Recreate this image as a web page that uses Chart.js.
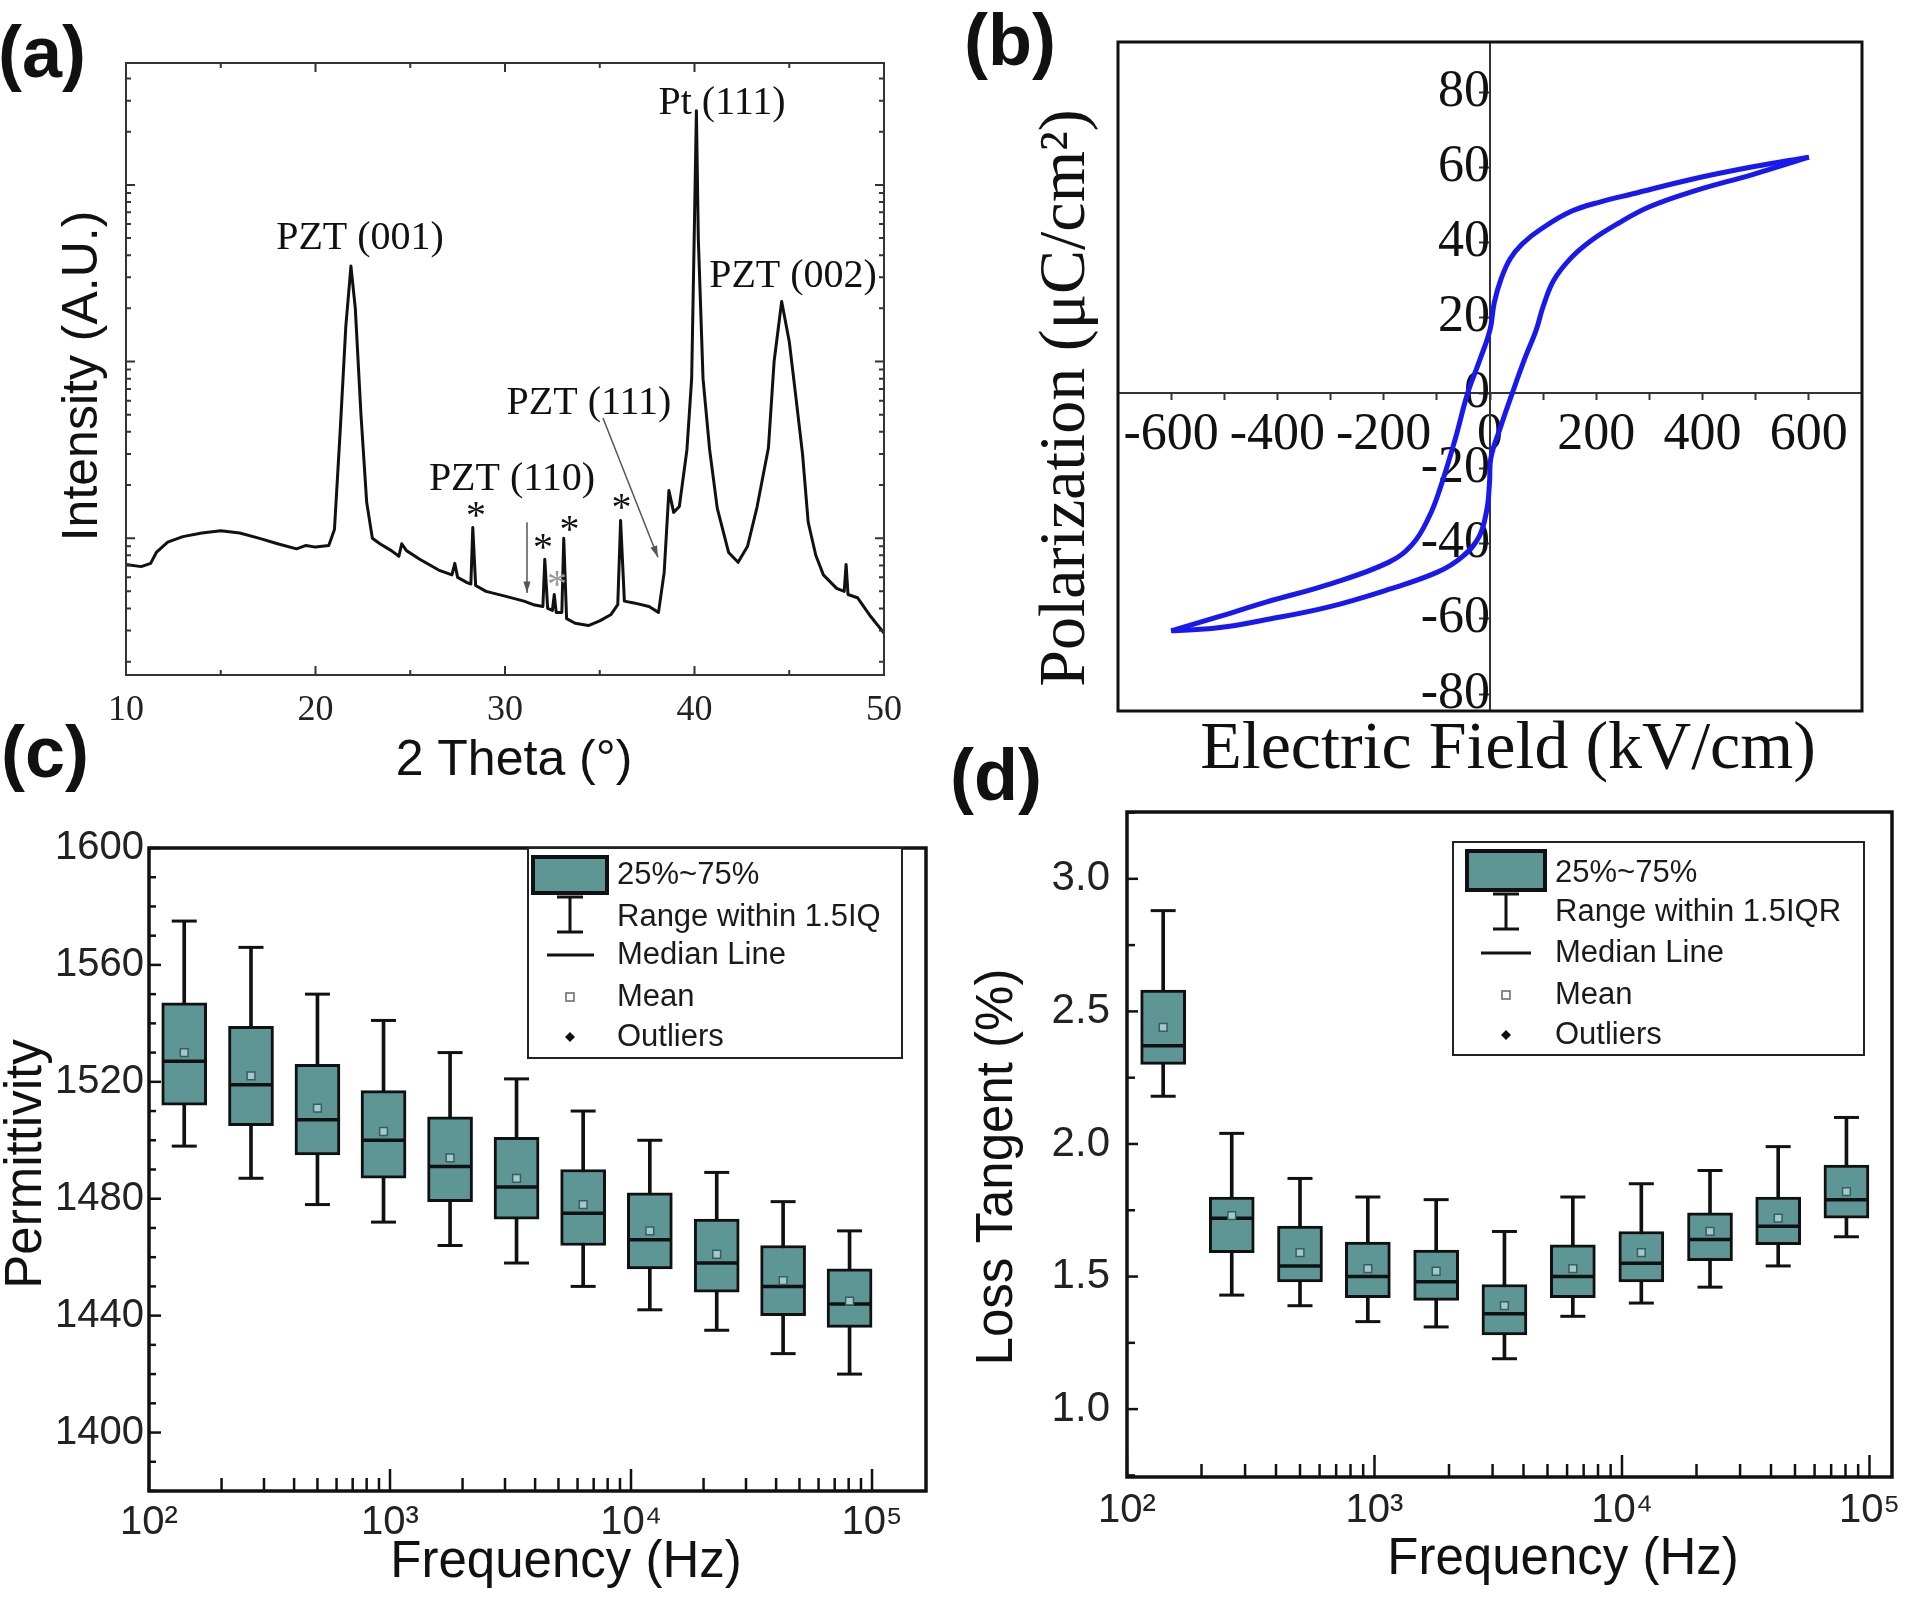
<!DOCTYPE html>
<html>
<head>
<meta charset="utf-8">
<title>PZT film: XRD, P-E loop, permittivity and loss tangent</title>
<script src="https://cdn.jsdelivr.net/npm/chart.js@4.4.1/dist/chart.umd.min.js"></script>
<style>
  html, body { margin: 0; background: #fff; }
  #fig { position: relative; width: 1920px; height: 1599px; }
  #fig canvas { position: absolute; left: 0; top: 0; }
</style>
</head>
<body>
<div id="fig">
  <canvas id="xrd" width="1920" height="1599"></canvas>
  <canvas id="loop" width="1920" height="1599"></canvas>
  <canvas id="perm" width="1920" height="1599"></canvas>
  <canvas id="loss" width="1920" height="1599"></canvas>
</div>
<script>
// ---- (a) XRD scan (intensity in arbitrary counts, log axis)
const twoTheta = [10, 10.8, 11.3, 11.6, 12.2, 13, 14, 15, 16, 17, 18, 19, 19.5, 20, 20.7, 21, 21.3, 21.6, 21.87, 22.1,
  22.4, 22.7, 23, 23.4, 24, 24.4, 24.55, 24.8, 25.5, 26.5, 27.2, 27.35, 27.5, 28, 28.2, 28.3, 28.45, 29, 30, 31,
  31.5, 32, 32.1, 32.25, 32.5, 32.6, 32.7, 33, 33.1, 33.25, 33.7, 34.4, 35, 35.6, 35.95, 36.1, 36.3, 36.8, 37.6, 38.1,
  38.4, 38.65, 38.9, 39.2, 39.6, 39.85, 40, 40.1, 40.2, 40.45, 40.8, 41.2, 41.8, 42.3, 42.8, 43.3, 43.9, 44.2, 44.6, 45,
  45.36, 45.7, 46, 46.4, 46.8, 47.5, 47.9, 48, 48.1, 48.6, 49.3, 50]
const xrdIntensity = [71, 69, 72, 83, 95, 102, 107, 110, 107, 100, 93, 87, 91, 89, 91, 112, 400, 1580, 3470, 2000,
  500, 160, 100, 93, 85, 79, 93, 85, 76, 66, 62, 72, 60, 56, 55, 115, 54, 50, 47, 44,
  42, 41, 76, 40, 39, 48, 38, 38, 100, 35, 33, 32, 34, 37, 42, 126, 44, 43, 41, 38,
  64, 186, 140, 151, 316, 800, 6300, 26300, 5000, 800, 316, 148, 83, 73, 90, 150, 324, 1000, 2190, 1300,
  617, 300, 123, 80, 62, 52, 50, 71, 48, 46, 36, 29]
const thetaTicks = [10, 20, 30, 40, 50]
const thetaMinor = [15, 25, 35, 45]
const intensityMajor = [100, 1000, 10000]
const peakLabels = ['PZT (001)', 'Pt (111)', 'PZT (002)', 'PZT (111)', 'PZT (110)']

// ---- (b) P-E hysteresis loop
const upperField = [600, 497, 382, 267, 210, 153, 96, 61, 38, 21, 8, 0, -20, -42, -65, -95, -115, -145, -191, -305, -420, -512, -600]
const upperPol = [62.7, 60.2, 56.9, 52.9, 50.9, 48.3, 43.6, 39.7, 35.7, 30.4, 24, 16.8, 8.5, 0, -12, -25.8, -33, -40, -45, -50.9, -55.5, -59.5, -63.2]
const lowerField = [-600, -512, -420, -305, -191, -99, -53, -21, -6, -1, 2, 20, 42, 65, 87, 100, 120, 153, 190, 240, 300, 382, 497, 600]
const lowerPol = [-63.2, -62.4, -60.2, -56.9, -52.2, -47.6, -43.6, -38.3, -31, -24, -17, -9, 0, 9, 16.8, 23, 30, 36, 40.5, 45, 49.5, 53.6, 58.2, 62.7]
const fieldTicks = [-600, -500, -400, -300, -200, -100, 0, 100, 200, 300, 400, 500, 600]
const polTicks = [-80, -60, -40, -20, 0, 20, 40, 60, 80]

// ---- (c) and (d) box plots against frequency
const freqHz = [140, 265, 500, 940, 1775, 3350, 6330, 11970, 22680, 42770, 80700]
const decadeTicks = [100, 1000, 10000, 100000]
const decadeLabels = ['10²', '10³', '10⁴', '10⁵']

const permHigh = [1575, 1566, 1550, 1541, 1530, 1521, 1510, 1500, 1489, 1479, 1469]
const permQ3 = [1547, 1539, 1526, 1517, 1508, 1501, 1490, 1482, 1473, 1464, 1456]
const permMedian = [1527, 1519, 1507, 1500, 1491, 1484, 1475, 1466, 1458, 1450, 1444]
const permMean = [1530, 1522, 1511, 1503, 1494, 1487, 1478, 1469, 1461, 1452, 1445]
const permQ1 = [1512, 1505, 1495, 1487, 1479, 1473, 1464, 1456, 1448, 1440, 1436]
const permLow = [1498, 1487, 1478, 1472, 1464, 1458, 1450, 1442, 1435, 1427, 1420]
const permTicks = [1400, 1440, 1480, 1520, 1560, 1600]

const lossHigh = [2.88, 2.04, 1.87, 1.80, 1.79, 1.67, 1.80, 1.85, 1.90, 1.99, 2.10]
const lossQ3 = [2.58, 1.80, 1.69, 1.63, 1.60, 1.47, 1.62, 1.67, 1.74, 1.80, 1.92]
const lossMedian = [2.37, 1.72, 1.54, 1.50, 1.48, 1.36, 1.50, 1.55, 1.64, 1.69, 1.79]
const lossMean = [2.44, 1.73, 1.59, 1.53, 1.52, 1.39, 1.53, 1.59, 1.67, 1.72, 1.82]
const lossQ1 = [2.30, 1.59, 1.48, 1.42, 1.41, 1.28, 1.42, 1.48, 1.56, 1.62, 1.72]
const lossLow = [2.18, 1.43, 1.39, 1.33, 1.31, 1.19, 1.35, 1.40, 1.46, 1.54, 1.65]
const lossTicks = [1.0, 1.5, 2.0, 2.5, 3.0]
const lossMinor = [0.75, 1.25, 1.75, 2.25, 2.75, 3.25]

const legendPermLabels = ['25%~75%', 'Range within 1.5IQ', 'Median Line', 'Mean', 'Outliers']
const legendLossLabels = ['25%~75%', 'Range within 1.5IQR', 'Median Line', 'Mean', 'Outliers']

// ---- styling
const SANS = 'Liberation Sans'
const SERIF = 'Liberation Serif'
const LETTER = 'bold 72px "Liberation Sans"'
const BOX_FILL = '#5e9696'
const LOOP_BLUE = '#1818f0'
const INK = '#111'

function logMinor(lo, hi) {
  let out = []
  for (let d = lo; d < hi; d *= 10)
    for (let k = 2; k <= 9; k++) out.push(d * k)
  return out
}

// border round the plot with inward tick marks
function frame(o) {
  return {
    id: 'frame',
    afterDatasetsDraw(chart) {
      const {ctx, chartArea: a, scales} = chart
      ctx.save()
      ctx.strokeStyle = o.color
      ctx.lineWidth = o.width
      ctx.strokeRect(a.left, a.top, a.right - a.left, a.bottom - a.top)
      ctx.lineWidth = o.tickWidth || 2
      for (const [values, len] of o.x || []) {
        for (const v of values) {
          const p = scales.x.getPixelForValue(v)
          if (p < a.left - 1 || p > a.right + 1) continue
          ctx.beginPath()
          if (o.xSides.includes('bottom')) { ctx.moveTo(p, a.bottom); ctx.lineTo(p, a.bottom - len) }
          if (o.xSides.includes('top')) { ctx.moveTo(p, a.top); ctx.lineTo(p, a.top + len) }
          ctx.stroke()
        }
      }
      for (const [values, len] of o.y || []) {
        for (const v of values) {
          const p = scales.y.getPixelForValue(v)
          if (p < a.top - 1 || p > a.bottom + 1) continue
          ctx.beginPath()
          if (o.ySides.includes('left')) { ctx.moveTo(a.left, p); ctx.lineTo(a.left + len, p) }
          if (o.ySides.includes('right')) { ctx.moveTo(a.right, p); ctx.lineTo(a.right - len, p) }
          ctx.stroke()
        }
      }
      ctx.restore()
    }
  }
}

// titles, panel letters and peak notes; `data` items are placed through the scales
function notes(items, arrows) {
  return {
    id: 'notes',
    afterDraw(chart) {
      const {ctx, scales} = chart
      ctx.save()
      for (const t of items) {
        let x = t.x, y = t.y
        if (t.data) {
          x = scales.x.getPixelForValue(t.data[0])
          y = scales.y.getPixelForValue(t.data[1])
        }
        ctx.save()
        ctx.translate(x, y + (t.dy || 0))
        if (t.rot) ctx.rotate(t.rot)
        ctx.font = t.font
        ctx.fillStyle = t.color || INK
        ctx.textAlign = 'center'
        ctx.textBaseline = 'middle'
        ctx.fillText(t.text, 0, 0)
        ctx.restore()
      }
      for (const [from, to] of arrows || []) {
        const x0 = scales.x.getPixelForValue(from[0]), y0 = scales.y.getPixelForValue(from[1])
        const x1 = scales.x.getPixelForValue(to[0]), y1 = scales.y.getPixelForValue(to[1])
        const ang = Math.atan2(y1 - y0, x1 - x0)
        ctx.strokeStyle = '#555'
        ctx.fillStyle = '#555'
        ctx.lineWidth = 1.5
        ctx.beginPath(); ctx.moveTo(x0, y0); ctx.lineTo(x1, y1); ctx.stroke()
        ctx.beginPath()
        ctx.moveTo(x1, y1)
        ctx.lineTo(x1 - 12 * Math.cos(ang - 0.3), y1 - 12 * Math.sin(ang - 0.3))
        ctx.lineTo(x1 - 12 * Math.cos(ang + 0.3), y1 - 12 * Math.sin(ang + 0.3))
        ctx.closePath(); ctx.fill()
      }
      ctx.restore()
    }
  }
}

// Origin-style legend box for the box plots
function boxLegend(labels, L) {
  return {
    id: 'boxLegend',
    afterDatasetsDraw(chart) {
      const ctx = chart.ctx
      const cx = L.x + L.symX
      ctx.save()
      ctx.fillStyle = '#fff'
      ctx.fillRect(L.x, L.y, L.w, L.h)
      ctx.strokeStyle = '#222'
      ctx.lineWidth = 2
      ctx.strokeRect(L.x, L.y, L.w, L.h)
      ctx.fillStyle = BOX_FILL
      ctx.fillRect(L.x + L.sw[0], L.y + L.sw[1], L.sw[2], L.sw[3])
      ctx.strokeStyle = INK
      ctx.lineWidth = 4
      ctx.strokeRect(L.x + L.sw[0], L.y + L.sw[1], L.sw[2], L.sw[3])
      ctx.lineWidth = 3
      ctx.beginPath()
      ctx.moveTo(cx, L.y + L.wh[0]); ctx.lineTo(cx, L.y + L.wh[1])
      ctx.moveTo(cx - 13, L.y + L.wh[0]); ctx.lineTo(cx + 13, L.y + L.wh[0])
      ctx.moveTo(cx - 13, L.y + L.wh[1]); ctx.lineTo(cx + 13, L.y + L.wh[1])
      ctx.moveTo(L.x + L.med[0], L.y + L.rows[2]); ctx.lineTo(L.x + L.med[1], L.y + L.rows[2])
      ctx.stroke()
      ctx.lineWidth = 1.5
      ctx.strokeStyle = '#666'
      ctx.strokeRect(cx - 4, L.y + L.rows[3] - 4, 8, 8)
      ctx.fillStyle = INK
      ctx.beginPath()
      const oy = L.y + L.rows[4]
      ctx.moveTo(cx, oy - 5); ctx.lineTo(cx + 5, oy); ctx.lineTo(cx, oy + 5); ctx.lineTo(cx - 5, oy)
      ctx.closePath(); ctx.fill()
      ctx.font = '31px "Liberation Sans"'
      ctx.fillStyle = '#1a1a1a'
      ctx.textAlign = 'left'
      ctx.textBaseline = 'middle'
      labels.forEach((t, i) => ctx.fillText(t, L.x + L.textX, L.y + L.rows[i]))
      ctx.restore()
    }
  }
}

const common = {
  responsive: false,
  animation: false,
  devicePixelRatio: 1,
  events: [],
  plugins: {legend: {display: false}, tooltip: {enabled: false}}
}
const noGrid = {display: false, drawTicks: false, offset: false}
const setTicks = values => s => { s.ticks = values.map(v => ({value: v})) }

// ---------- (a)
const peakLabelPos = [[22.35, 5000], [41.45, 28800], [45.2, 3020], [34.43, 575], [30.37, 216]]
const starPos = [[28.47, 148], [32.0, 97], [33.4, 123], [32.75, 60], [36.15, 164]]

new Chart(document.getElementById('xrd'), {
  type: 'scatter',
  data: {
    datasets: [{
      data: twoTheta.map((t, i) => ({x: t, y: xrdIntensity[i]})),
      showLine: true,
      borderColor: INK,
      borderWidth: 3,
      borderJoinStyle: 'round',
      pointRadius: 0,
      tension: 0
    }]
  },
  options: {
    ...common,
    layout: {padding: {left: 60, top: 63, right: 1036, bottom: 813}},
    scales: {
      x: {
        type: 'linear', min: 10, max: 50,
        grid: noGrid, border: {display: false},
        afterBuildTicks: setTicks(thetaTicks),
        afterFit: s => { s.height = 111 },
        ticks: {autoSkip: false, maxRotation: 0, padding: 18, color: '#222',
          font: {family: SERIF, size: 36, lineHeight: 1}, callback: v => String(v)}
      },
      y: {
        type: 'logarithmic', min: 16.8, max: 49000,
        grid: noGrid, border: {display: false},
        ticks: {display: false},
        afterFit: s => { s.width = 66 }
      }
    }
  },
  plugins: [
    frame({color: '#333', width: 2, tickWidth: 2, xSides: ['bottom', 'top'], ySides: ['left', 'right'],
      x: [[thetaTicks, 9], [thetaMinor, 5]], y: [[intensityMajor, 9], [logMinor(10, 1e5), 5]]}),
    notes([
      {text: '(a)', x: 42, y: 57, font: LETTER},
      {text: '2 Theta (°)', x: 514, y: 761, font: '50px "Liberation Sans"'},
      {text: 'Intensity (A.U.)', x: 83, y: 376, rot: -Math.PI / 2, font: '50px "Liberation Sans"'},
      ...peakLabels.map((t, i) => ({text: t, data: peakLabelPos[i], font: '40px "Liberation Serif"'})),
      ...starPos.map((p, i) => ({text: '*', data: p, dy: 9, font: '40px "Liberation Serif"', color: i === 3 ? '#999' : INK}))
    ], [
      [[31.16, 123], [31.16, 49]],
      [[35.17, 479], [38.07, 78]]
    ])
  ]
})

// ---------- (b)
new Chart(document.getElementById('loop'), {
  type: 'scatter',
  data: {
    datasets: [
      {data: upperField.map((e, i) => ({x: e, y: upperPol[i]})), showLine: true, borderColor: LOOP_BLUE,
        borderWidth: 5, pointRadius: 0, tension: 0.4},
      {data: lowerField.map((e, i) => ({x: e, y: lowerPol[i]})), showLine: true, borderColor: LOOP_BLUE,
        borderWidth: 5, pointRadius: 0, tension: 0.4}
    ]
  },
  options: {
    ...common,
    layout: {padding: {left: 1118, top: 42, right: 58, bottom: 888}},
    scales: {
      x: {
        type: 'linear', min: -700, max: 700, position: {y: 0},
        grid: {drawOnChartArea: false, drawTicks: true, tickLength: 6, tickWidth: 2, tickColor: '#333'},
        border: {color: '#333', width: 2},
        afterBuildTicks: setTicks(fieldTicks),
        ticks: {autoSkip: false, maxRotation: 0, padding: 10, color: INK,
          font: {family: SERIF, size: 52, lineHeight: 1}, callback: v => (v % 200 === 0 ? String(v) : '')}
      },
      y: {
        type: 'linear', min: -84.5, max: 93.3, position: {x: 0},
        grid: {drawOnChartArea: false, drawTicks: true, tickLength: 10, tickWidth: 2, tickColor: '#333'},
        border: {color: '#333', width: 2},
        afterBuildTicks: setTicks(polTicks),
        ticks: {autoSkip: false, padding: 3, color: INK,
          font: {family: SERIF, size: 52, lineHeight: 1}, callback: v => String(v)}
      }
    }
  },
  plugins: [
    frame({color: INK, width: 3}),
    notes([
      {text: '(b)', x: 1010, y: 45, font: LETTER},
      {text: 'Polarization (μC/cm²)', x: 1067, y: 398, rot: -Math.PI / 2, font: '66px "Liberation Serif"'},
      {text: 'Electric Field (kV/cm)', x: 1508, y: 750, font: '68px "Liberation Serif"'}
    ])
  ]
})

// ---------- box plot helper for (c) and (d)
function boxDatasets(lo, q1, med, mean, q3, hi) {
  return [
    {type: 'bar', data: freqHz.map((f, i) => ({x: f, y: [lo[i], hi[i]]})), backgroundColor: INK,
      barThickness: 3, grouped: false, order: 5},
    {type: 'bar', data: freqHz.map((f, i) => ({x: f, y: [q1[i], q3[i]]})), backgroundColor: BOX_FILL,
      borderColor: INK, borderWidth: 3, borderSkipped: false, barThickness: 45, grouped: false, order: 4},
    {type: 'scatter', data: freqHz.map((f, i) => ({x: f, y: hi[i]})).concat(freqHz.map((f, i) => ({x: f, y: lo[i]}))),
      pointStyle: 'line', pointRadius: 12.5, borderColor: INK, borderWidth: 3, order: 3},
    {type: 'scatter', data: freqHz.map((f, i) => ({x: f, y: med[i]})),
      pointStyle: 'line', pointRadius: 22, borderColor: INK, borderWidth: 3.5, order: 2},
    {type: 'scatter', data: freqHz.map((f, i) => ({x: f, y: mean[i]})),
      pointStyle: 'rect', pointRadius: 5.5, borderColor: '#355f5f', backgroundColor: '#a5c8c8', borderWidth: 1.5, order: 1}
  ]
}

function freqAxis(max, pad, height) {
  return {
    type: 'logarithmic', min: 100, max: max, offset: false,
    grid: noGrid, border: {display: false},
    afterBuildTicks: setTicks(decadeTicks),
    afterFit: s => { s.height = height },
    ticks: {autoSkip: false, maxRotation: 0, padding: pad, color: '#222',
      font: {family: SANS, size: 40, lineHeight: 1}, callback: (v, i) => decadeLabels[i]}
  }
}

// ---------- (c)
new Chart(document.getElementById('perm'), {
  type: 'bar',
  data: {datasets: boxDatasets(permLow, permQ1, permMedian, permMean, permQ3, permHigh)},
  options: {
    ...common,
    layout: {padding: {left: 0, top: 848, right: 994, bottom: 0}},
    scales: {
      x: freqAxis(167500, 12, 108),
      y: {
        type: 'linear', min: 1380, max: 1600, beginAtZero: false,
        grid: noGrid, border: {display: false},
        afterBuildTicks: setTicks(permTicks),
        afterFit: s => { s.width = 149 },
        ticks: {padding: 5, color: '#222', font: {family: SANS, size: 40, lineHeight: 1}, callback: v => String(v)}
      }
    }
  },
  plugins: [
    frame({color: INK, width: 3.5, tickWidth: 2.5, xSides: ['bottom'], ySides: ['left'],
      x: [[decadeTicks, 22], [logMinor(100, 1e5), 13]],
      y: [[permTicks, 12], [[1380, 1390, 1410, 1420, 1430, 1450, 1460, 1470, 1490, 1500, 1510, 1530, 1540, 1550, 1570, 1580, 1590], 7]]}),
    boxLegend(legendPermLabels, {x: 528, y: 848, w: 374, h: 210, sw: [5, 9, 74, 36], symX: 42, wh: [49, 84],
      med: [19, 66], rows: [27, 69, 107, 149, 189], textX: 89}),
    notes([
      {text: '(c)', x: 45, y: 757, font: LETTER},
      {text: 'Permittivity', x: 27, y: 1164, rot: -Math.PI / 2, font: '51px "Liberation Sans"'},
      {text: 'Frequency (Hz)', x: 566, y: 1563, font: '51px "Liberation Sans"'}
    ])
  ]
})

// ---------- (d)
new Chart(document.getElementById('loss'), {
  type: 'bar',
  data: {datasets: boxDatasets(lossLow, lossQ1, lossMedian, lossMean, lossQ3, lossHigh)},
  options: {
    ...common,
    layout: {padding: {left: 960, top: 812, right: 28, bottom: 0}},
    scales: {
      x: freqAxis(123300, 14, 122),
      y: {
        type: 'linear', min: 0.744, max: 3.252, beginAtZero: false,
        grid: noGrid, border: {display: false},
        afterBuildTicks: setTicks(lossTicks),
        afterFit: s => { s.width = 167 },
        ticks: {padding: 17, color: '#222', font: {family: SANS, size: 42, lineHeight: 1}, callback: v => v.toFixed(1)}
      }
    }
  },
  plugins: [
    frame({color: INK, width: 3.5, tickWidth: 2.5, xSides: ['bottom'], ySides: ['left'],
      x: [[decadeTicks, 22], [logMinor(100, 1e5), 13]],
      y: [[lossTicks, 11], [lossMinor, 8]]}),
    boxLegend(legendLossLabels, {x: 1453, y: 842, w: 411, h: 213, sw: [14, 9, 78, 39], symX: 53, wh: [52, 87],
      med: [28, 78], rows: [31, 70, 111, 153, 193], textX: 102}),
    notes([
      {text: '(d)', x: 996, y: 780, font: LETTER},
      {text: 'Loss Tangent (%)', x: 998, y: 1167, rot: -Math.PI / 2, font: '51px "Liberation Sans"'},
      {text: 'Frequency (Hz)', x: 1563, y: 1560, font: '51px "Liberation Sans"'}
    ])
  ]
})
</script>
</body>
</html>
